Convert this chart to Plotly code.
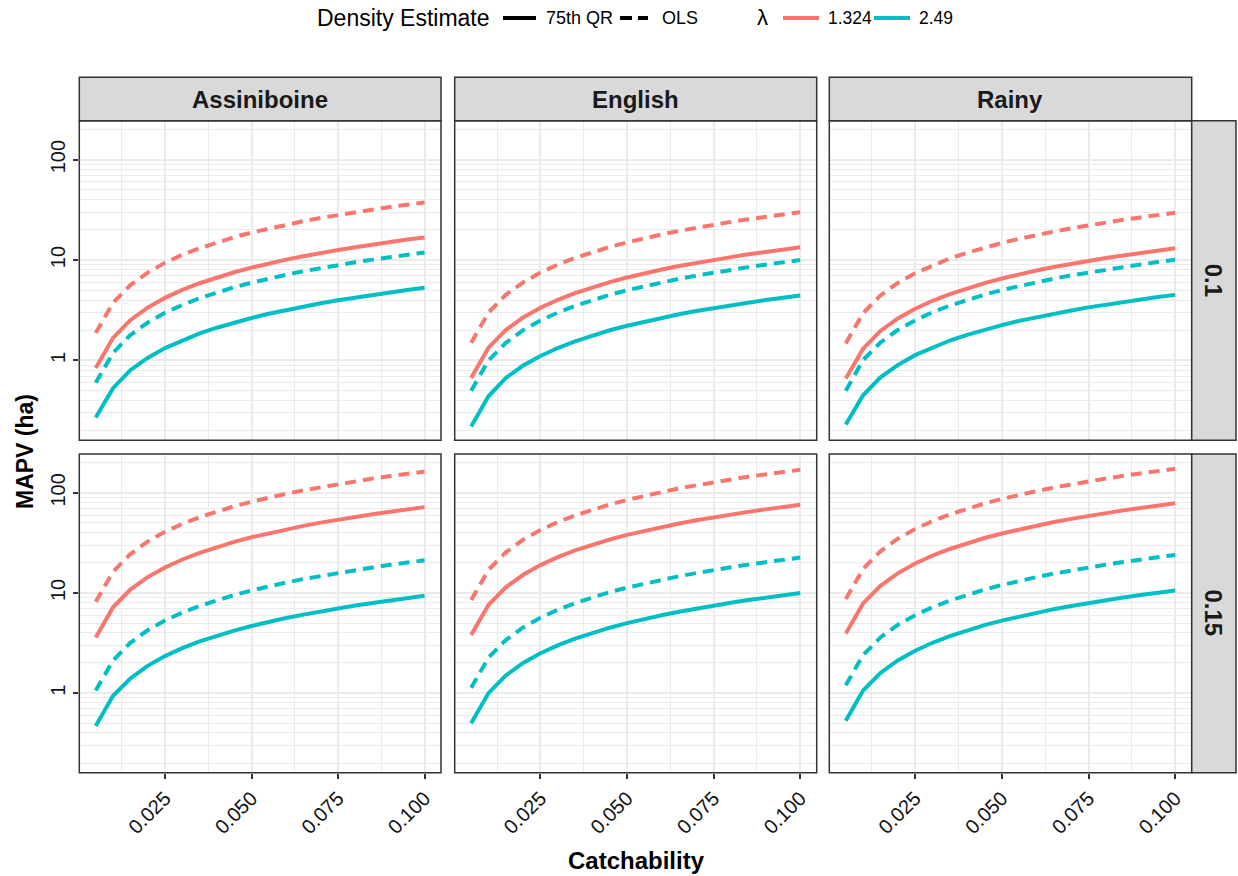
import plotly.graph_objects as go

W, H = 1238, 876

# ---------------- data ----------------
catchability = [0.005, 0.010, 0.015, 0.020, 0.025, 0.030, 0.035, 0.040, 0.045, 0.050,
                0.055, 0.060, 0.065, 0.070, 0.075, 0.080, 0.085, 0.090, 0.095, 0.100]
sites = ["Assiniboine", "English", "Rainy"]
prop_levels = ["0.1", "0.15"]
lambda_levels = ["1.324", "2.49"]
estimate_levels = ["75th QR", "OLS"]
x_tickvals = [0.025, 0.050, 0.075, 0.100]
x_ticktext = ["0.025", "0.050", "0.075", "0.100"]
y_tickvals = [1, 10, 100]
y_ticktext = ["1", "10", "100"]

ass_p10_qr_l1324 = [0.84, 1.68, 2.52, 3.36, 4.20, 5.04, 5.88, 6.72, 7.56, 8.40, 9.24, 10.1, 10.9, 11.8, 12.6, 13.4, 14.3, 15.1, 16.0, 16.8]
ass_p10_ols_l1324 = [1.88, 3.75, 5.63, 7.50, 9.38, 11.3, 13.1, 15.0, 16.9, 18.8, 20.6, 22.5, 24.4, 26.3, 28.1, 30.0, 31.9, 33.8, 35.6, 37.5]
ass_p10_qr_l249 = [0.27, 0.53, 0.80, 1.06, 1.33, 1.59, 1.86, 2.12, 2.39, 2.65, 2.92, 3.18, 3.45, 3.71, 3.98, 4.24, 4.51, 4.77, 5.04, 5.30]
ass_p10_ols_l249 = [0.60, 1.19, 1.79, 2.38, 2.98, 3.57, 4.17, 4.76, 5.36, 5.95, 6.55, 7.14, 7.74, 8.33, 8.93, 9.52, 10.1, 10.7, 11.3, 11.9]

eng_p10_qr_l1324 = [0.67, 1.34, 2.01, 2.68, 3.35, 4.02, 4.69, 5.36, 6.03, 6.70, 7.37, 8.04, 8.71, 9.38, 10.1, 10.7, 11.4, 12.1, 12.7, 13.4]
eng_p10_ols_l1324 = [1.50, 3.00, 4.50, 6.00, 7.50, 9.00, 10.5, 12.0, 13.5, 15.0, 16.5, 18.0, 19.5, 21.0, 22.5, 24.0, 25.5, 27.0, 28.5, 30.0]
eng_p10_qr_l249 = [0.22, 0.44, 0.67, 0.89, 1.11, 1.33, 1.55, 1.78, 2.00, 2.22, 2.44, 2.66, 2.89, 3.11, 3.33, 3.55, 3.77, 4.00, 4.22, 4.44]
eng_p10_ols_l249 = [0.50, 1.00, 1.50, 2.00, 2.50, 3.00, 3.50, 4.00, 4.50, 5.00, 5.50, 6.00, 6.50, 7.00, 7.50, 8.00, 8.50, 9.00, 9.50, 10.0]

rai_p10_qr_l1324 = [0.66, 1.31, 1.97, 2.62, 3.28, 3.93, 4.59, 5.24, 5.90, 6.55, 7.21, 7.86, 8.52, 9.17, 9.83, 10.5, 11.1, 11.8, 12.4, 13.1]
rai_p10_ols_l1324 = [1.48, 2.96, 4.44, 5.92, 7.40, 8.88, 10.4, 11.8, 13.3, 14.8, 16.3, 17.8, 19.2, 20.7, 22.2, 23.7, 25.2, 26.6, 28.1, 29.6]
rai_p10_qr_l249 = [0.23, 0.45, 0.68, 0.90, 1.13, 1.35, 1.58, 1.80, 2.03, 2.25, 2.48, 2.70, 2.93, 3.15, 3.38, 3.60, 3.83, 4.05, 4.28, 4.50]
rai_p10_ols_l249 = [0.50, 1.01, 1.51, 2.01, 2.51, 3.02, 3.52, 4.02, 4.52, 5.03, 5.53, 6.03, 6.53, 7.04, 7.54, 8.04, 8.54, 9.05, 9.55, 10.1]

ass_p15_qr_l1324 = [3.60, 7.20, 10.8, 14.4, 18.0, 21.6, 25.2, 28.8, 32.4, 36.0, 39.6, 43.2, 46.8, 50.4, 54.0, 57.6, 61.2, 64.8, 68.4, 72.0]
ass_p15_ols_l1324 = [8.15, 16.3, 24.5, 32.6, 40.8, 48.9, 57.1, 65.2, 73.4, 81.5, 89.7, 97.8, 106, 114, 122, 130, 139, 147, 155, 163]
ass_p15_qr_l249 = [0.47, 0.94, 1.40, 1.87, 2.34, 2.81, 3.28, 3.74, 4.21, 4.68, 5.15, 5.62, 6.08, 6.55, 7.02, 7.49, 7.96, 8.42, 8.89, 9.36]
ass_p15_ols_l249 = [1.06, 2.12, 3.18, 4.24, 5.30, 6.36, 7.42, 8.48, 9.54, 10.6, 11.7, 12.7, 13.8, 14.8, 15.9, 17.0, 18.0, 19.1, 20.1, 21.2]

eng_p15_qr_l1324 = [3.80, 7.60, 11.4, 15.2, 19.0, 22.8, 26.6, 30.4, 34.2, 38.0, 41.8, 45.6, 49.4, 53.2, 57.0, 60.8, 64.6, 68.4, 72.2, 76.0]
eng_p15_ols_l1324 = [8.50, 17.0, 25.5, 34.0, 42.5, 51.0, 59.5, 68.0, 76.5, 85.0, 93.5, 102, 111, 119, 128, 136, 145, 153, 162, 170]
eng_p15_qr_l249 = [0.50, 1.00, 1.50, 2.00, 2.50, 3.00, 3.50, 4.00, 4.50, 5.00, 5.50, 6.00, 6.50, 7.00, 7.50, 8.00, 8.50, 9.00, 9.50, 10.0]
eng_p15_ols_l249 = [1.13, 2.26, 3.39, 4.52, 5.65, 6.78, 7.91, 9.04, 10.2, 11.3, 12.4, 13.6, 14.7, 15.8, 17.0, 18.1, 19.2, 20.3, 21.5, 22.6]

rai_p15_qr_l1324 = [3.93, 7.86, 11.8, 15.7, 19.7, 23.6, 27.5, 31.4, 35.4, 39.3, 43.2, 47.2, 51.1, 55.0, 59.0, 62.9, 66.8, 70.7, 74.7, 78.6]
rai_p15_ols_l1324 = [8.70, 17.4, 26.1, 34.8, 43.5, 52.2, 60.9, 69.6, 78.3, 87.0, 95.7, 104, 113, 122, 131, 139, 148, 157, 165, 174]
rai_p15_qr_l249 = [0.53, 1.06, 1.59, 2.12, 2.65, 3.18, 3.71, 4.24, 4.77, 5.30, 5.83, 6.36, 6.89, 7.42, 7.95, 8.48, 9.01, 9.54, 10.1, 10.6]
rai_p15_ols_l249 = [1.20, 2.40, 3.60, 4.80, 6.00, 7.20, 8.40, 9.60, 10.8, 12.0, 13.2, 14.4, 15.6, 16.8, 18.0, 19.2, 20.4, 21.6, 22.8, 24.0]

panel_series = {
    (0, 0): [ass_p10_qr_l1324, ass_p10_ols_l1324, ass_p10_qr_l249, ass_p10_ols_l249],
    (0, 1): [eng_p10_qr_l1324, eng_p10_ols_l1324, eng_p10_qr_l249, eng_p10_ols_l249],
    (0, 2): [rai_p10_qr_l1324, rai_p10_ols_l1324, rai_p10_qr_l249, rai_p10_ols_l249],
    (1, 0): [ass_p15_qr_l1324, ass_p15_ols_l1324, ass_p15_qr_l249, ass_p15_ols_l249],
    (1, 1): [eng_p15_qr_l1324, eng_p15_ols_l1324, eng_p15_qr_l249, eng_p15_ols_l249],
    (1, 2): [rai_p15_qr_l1324, rai_p15_ols_l1324, rai_p15_qr_l249, rai_p15_ols_l249],
}
series_style = [("1.324", "75th QR"), ("1.324", "OLS"), ("2.49", "75th QR"), ("2.49", "OLS")]

# ---------------- style ----------------
colors = {"1.324": "#F8766D", "2.49": "#00BFC4"}
DASH = "11px,7px"
dashes = {"75th QR": "solid", "OLS": DASH}
LW = 4
FONT = "Liberation Sans, Arial, sans-serif"
DARK = "#333333"
GRID = "#EBEBEB"

col_px = [(79.3, 441.0), (454.7, 816.7), (829.3, 1191.7)]
row_px = [(120.7, 440.3), (454.0, 772.7)]
strip_top = 77.3
rstrip_right = 1236.0


def px(x):
    return x / W


def py(y):
    return 1 - y / H


fig = go.Figure()
layout = {}
shapes = []
annotations = []

y_minor = [0.2, 0.3, 0.4, 0.5, 0.6, 0.7, 0.8, 0.9,
           2, 3, 4, 5, 6, 7, 8, 9,
           20, 30, 40, 50, 60, 70, 80, 90, 200]
x_minor = [0.0125, 0.0375, 0.0625, 0.0875]

for r in range(2):
    for c in range(3):
        idx = r * 3 + c + 1
        xa = "xaxis" if idx == 1 else f"xaxis{idx}"
        ya = "yaxis" if idx == 1 else f"yaxis{idx}"
        xref = "x" if idx == 1 else f"x{idx}"
        yref = "y" if idx == 1 else f"y{idx}"
        for (lam, est), vals in zip(series_style, panel_series[(r, c)]):
            fig.add_trace(go.Scatter(
                x=catchability, y=vals, mode="lines", xaxis=xref, yaxis=yref,
                line=dict(color=colors[lam], width=LW, dash=dashes[est]),
                showlegend=False, hoverinfo="skip"))
        layout[xa] = dict(
            domain=[px(col_px[c][0]), px(col_px[c][1])], anchor=yref,
            range=[0.00025, 0.10475], showline=False, zeroline=False,
            tickvals=x_tickvals, ticktext=x_ticktext,
            showticklabels=(r == 1), ticks="outside" if r == 1 else "",
            ticklen=5, tickwidth=1.5, tickcolor=DARK, tickangle=-45,
            tickfont=dict(family=FONT, size=20, color="#111111"),
            showgrid=True, gridcolor=GRID, gridwidth=2,
            minor=dict(tickvals=x_minor, showgrid=True, gridcolor=GRID, gridwidth=1.2, ticks=""),
            automargin=False, fixedrange=True)
        layout[ya] = dict(
            domain=[py(row_px[r][1]), py(row_px[r][0])], anchor=xref,
            type="log", range=[-0.795, 2.388], showline=False, zeroline=False,
            tickvals=y_tickvals, ticktext=y_ticktext,
            showticklabels=(c == 0), ticks="outside" if c == 0 else "",
            ticklen=5, tickwidth=1.5, tickcolor=DARK, tickangle=-90,
            tickfont=dict(family=FONT, size=20, color="#111111"),
            showgrid=True, gridcolor=GRID, gridwidth=2,
            minor=dict(tickvals=y_minor, showgrid=True, gridcolor=GRID, gridwidth=1.2, ticks=""),
            automargin=False, fixedrange=True)
        # panel border
        shapes.append(dict(type="rect", xref="paper", yref="paper",
                           x0=px(col_px[c][0]), x1=px(col_px[c][1]),
                           y0=py(row_px[r][1]), y1=py(row_px[r][0]),
                           line=dict(color=DARK, width=1.5), fillcolor="rgba(0,0,0,0)", layer="above"))

# column strips
for c, site in enumerate(sites):
    shapes.append(dict(type="rect", xref="paper", yref="paper",
                       x0=px(col_px[c][0]), x1=px(col_px[c][1]),
                       y0=py(row_px[0][0]), y1=py(strip_top),
                       line=dict(color=DARK, width=1.5), fillcolor="#D9D9D9", layer="above"))
    annotations.append(dict(xref="paper", yref="paper", x=px((col_px[c][0] + col_px[c][1]) / 2),
                            y=py((strip_top + row_px[0][0]) / 2), text=site, showarrow=False,
                            xanchor="center", yanchor="middle",
                            font=dict(family=FONT, size=24, color="#1A1A1A", weight="bold")))
# row strips
for r, lab in enumerate(prop_levels):
    shapes.append(dict(type="rect", xref="paper", yref="paper",
                       x0=px(col_px[2][1]), x1=px(rstrip_right),
                       y0=py(row_px[r][1]), y1=py(row_px[r][0]),
                       line=dict(color=DARK, width=1.5), fillcolor="#D9D9D9", layer="above"))
    annotations.append(dict(xref="paper", yref="paper", x=px((col_px[2][1] + rstrip_right) / 2),
                            y=py((row_px[r][0] + row_px[r][1]) / 2), text=lab, showarrow=False,
                            textangle=90, xanchor="center", yanchor="middle",
                            font=dict(family=FONT, size=24, color="#1A1A1A", weight="bold")))

# axis titles
annotations.append(dict(xref="paper", yref="paper", x=px(636), y=py(860), text="Catchability",
                        showarrow=False, xanchor="center", yanchor="middle",
                        font=dict(family=FONT, size=24, color="black", weight="bold")))
annotations.append(dict(xref="paper", yref="paper", x=px(25), y=py(452), text="MAPV (ha)",
                        showarrow=False, textangle=-90, xanchor="center", yanchor="middle",
                        font=dict(family=FONT, size=23, color="black", weight="bold")))

# legend (drawn manually to mimic ggplot layout)
LY = 18
annotations.append(dict(xref="paper", yref="paper", x=px(315), y=py(LY), text="Density Estimate",
                        showarrow=False, xanchor="left", yanchor="middle",
                        font=dict(family=FONT, size=23, color="black")))
leg_lines = [(503.0, 536.0, "black", "solid"), (620.0, 648.0, "black", "12px,6px"),
             (783.0, 819.0, colors["1.324"], "solid"), (874.0, 910.0, colors["2.49"], "solid")]
for x0, x1, col, dsh in leg_lines:
    shapes.append(dict(type="line", xref="paper", yref="paper", x0=px(x0), x1=px(x1),
                       y0=py(LY), y1=py(LY), line=dict(color=col, width=LW, dash=dsh)))
leg_texts = [(544.0, estimate_levels[0], 18), (660.0, estimate_levels[1], 18),
             (826.0, lambda_levels[0], 17.5), (917.0, lambda_levels[1], 17.5)]
for x0, t, fs in leg_texts:
    annotations.append(dict(xref="paper", yref="paper", x=px(x0), y=py(LY), text=t,
                            showarrow=False, xanchor="left", yanchor="middle",
                            font=dict(family=FONT, size=fs, color="black")))
annotations.append(dict(xref="paper", yref="paper", x=px(755), y=py(LY), text="λ",
                        showarrow=False, xanchor="left", yanchor="middle",
                        font=dict(family=FONT, size=22, color="black")))

fig.update_layout(
    **layout,
    width=W, height=H, autosize=False,
    margin=dict(l=0, r=0, t=0, b=0, pad=0),
    paper_bgcolor="white", plot_bgcolor="white",
    shapes=shapes, annotations=annotations,
    showlegend=False,
    font=dict(family=FONT),
)

fig.write_html("out.html", config={"displayModeBar": False},
               post_script="document.body.style.margin='0';")
